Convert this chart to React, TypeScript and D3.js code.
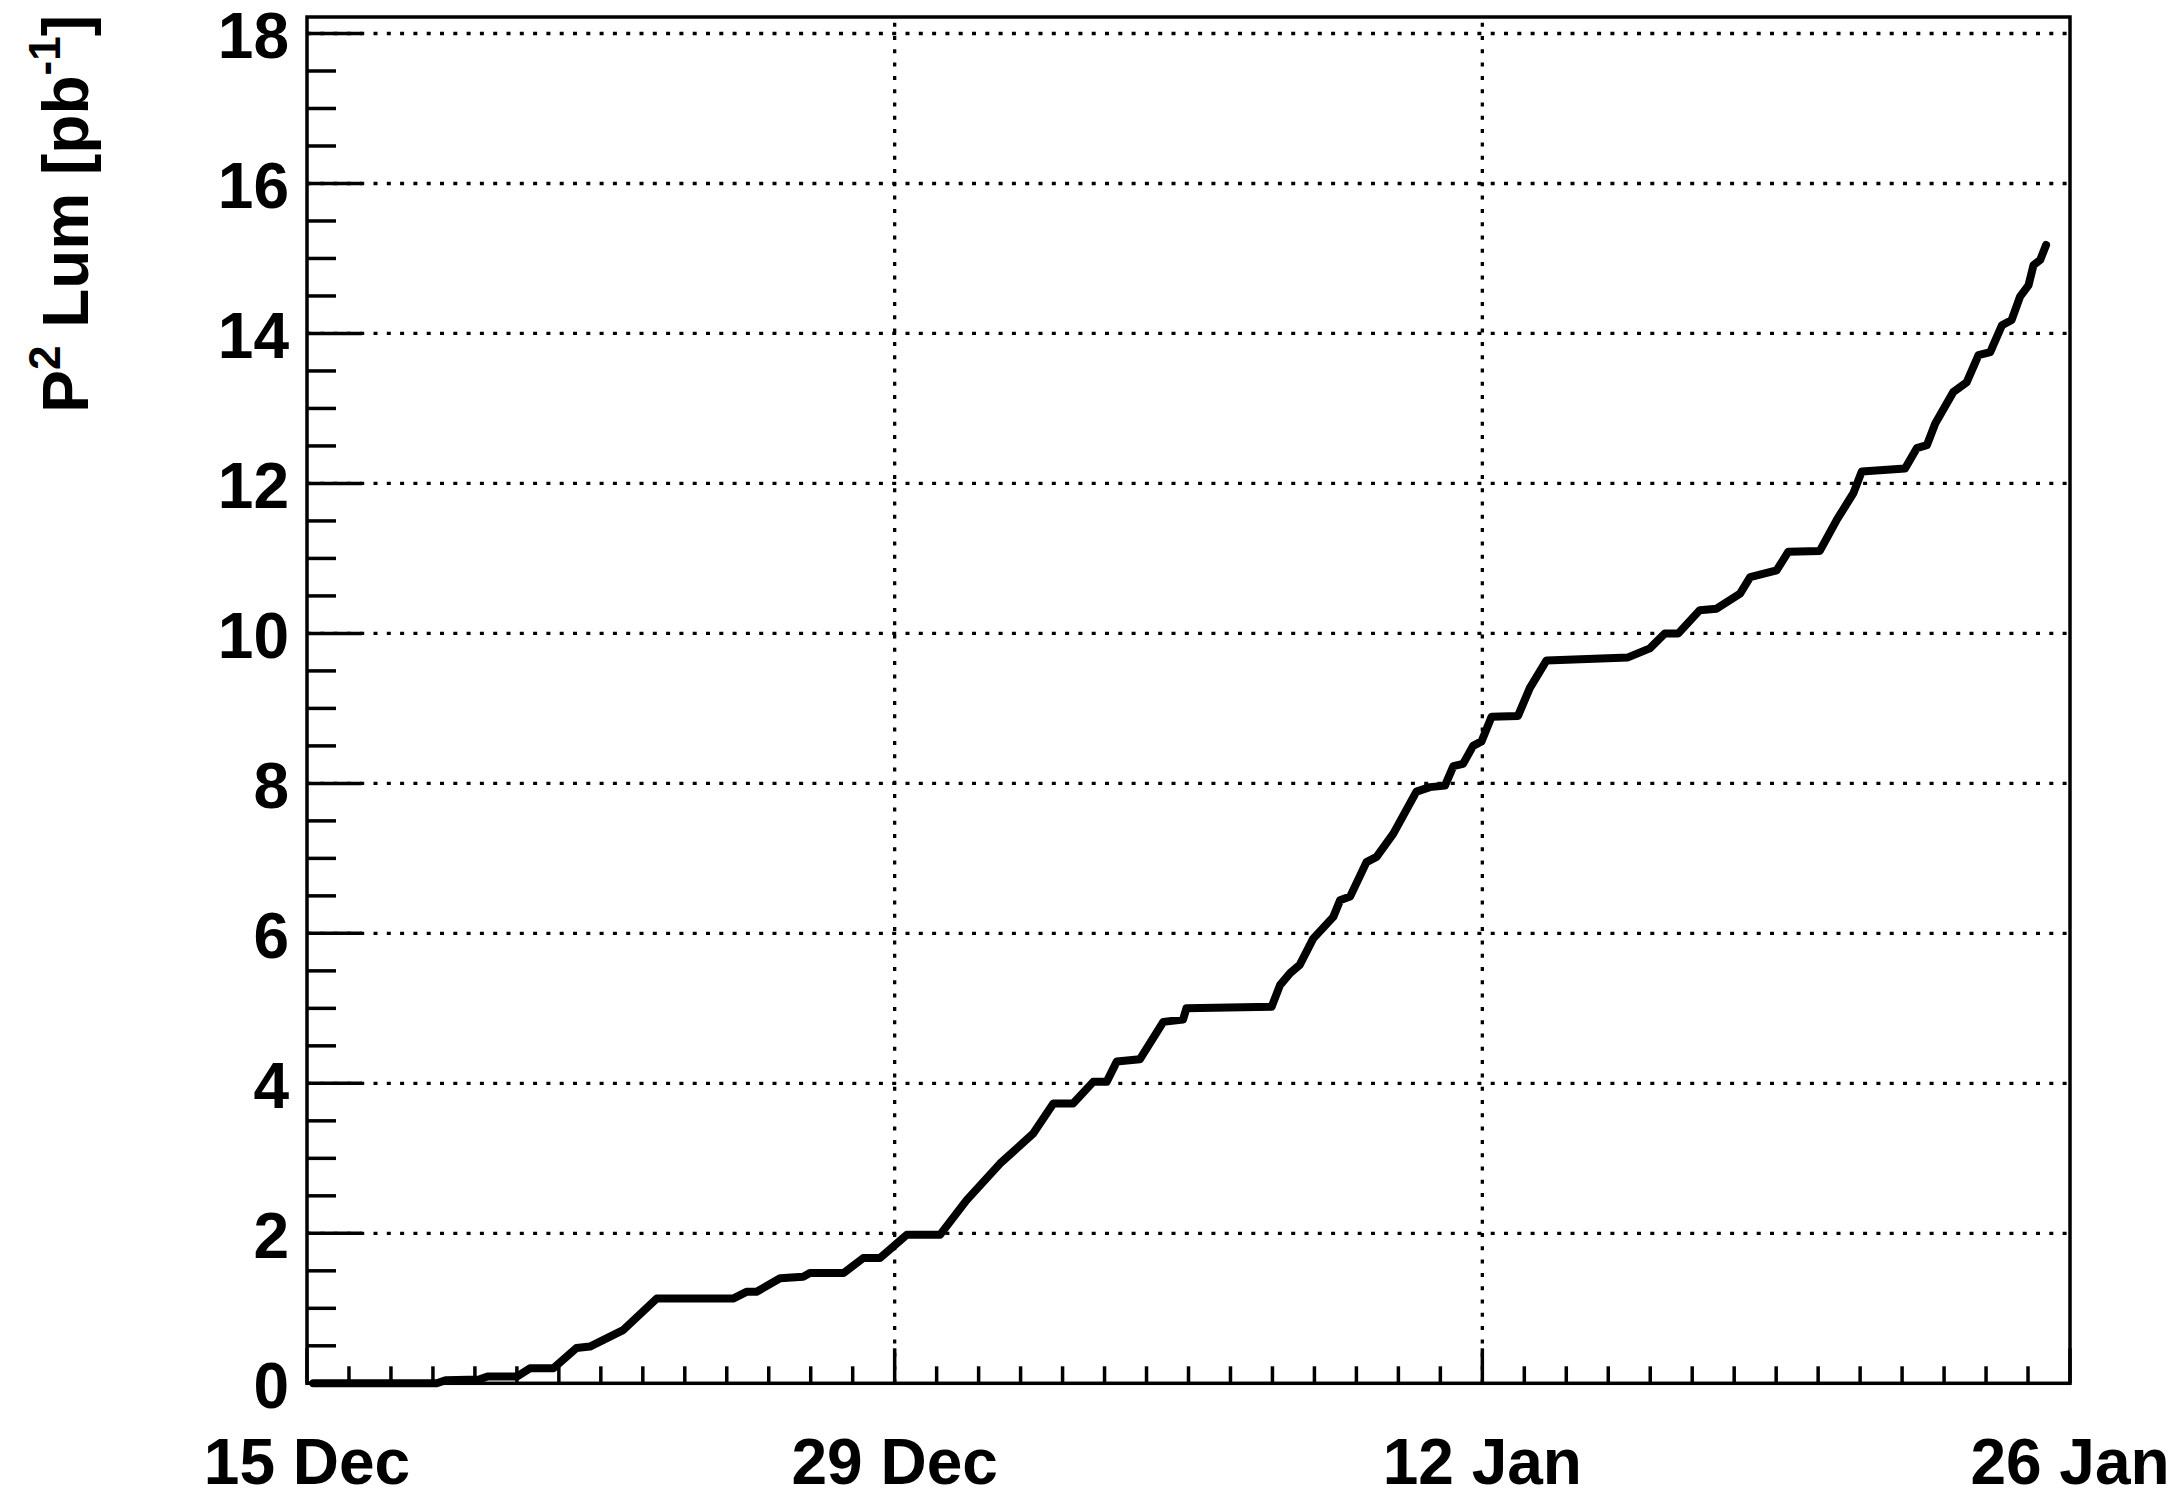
import React from 'react';
import * as d3 from 'd3';

// days since 15 Dec, integrated luminosity (pb^-1)
const days = [
  0.15, 3.09, 3.3, 4.1, 4.3, 5.0, 5.31, 5.87, 6.42, 6.74, 7.53, 8.33, 10.15, 10.47, 10.71,
  11.27, 11.82, 11.98, 12.78, 13.25, 13.65, 14.29, 15.08, 15.71, 16.51, 17.3, 17.78, 18.25,
  18.73, 19.05, 19.29, 19.84, 20.4, 20.87, 20.95, 22.98, 23.18, 23.42, 23.65, 23.97, 24.45,
  24.61, 24.85, 25.24, 25.48, 25.88, 26.43, 26.75, 27.11, 27.31, 27.54, 27.78, 27.98, 28.22,
  28.85, 29.13, 29.53, 31.47, 31.99, 32.35, 32.67, 33.18, 33.58, 34.14, 34.38, 35.01, 35.29,
  36.04, 36.45, 36.84, 37.04, 38.07, 38.35, 38.59, 38.79, 39.22, 39.54, 39.82, 40.1, 40.38,
  40.61, 40.81, 41.01, 41.13, 41.29, 41.43,
];
const lumi = [
  0, 0, 0.04, 0.05, 0.09, 0.09, 0.2, 0.2, 0.47, 0.49, 0.71, 1.13, 1.13, 1.22, 1.22,
  1.4, 1.42, 1.47, 1.47, 1.67, 1.67, 1.98, 1.98, 2.44, 2.93, 3.33, 3.73, 3.73,
  4.02, 4.02, 4.29, 4.32, 4.82, 4.85, 5.0, 5.02, 5.31, 5.47, 5.58, 5.93, 6.22,
  6.44, 6.49, 6.95, 7.02, 7.33, 7.89, 7.95, 7.97, 8.23, 8.26, 8.5, 8.56, 8.89,
  8.9, 9.27, 9.64, 9.68, 9.8, 10.0, 10.0, 10.31, 10.33, 10.53, 10.75, 10.84, 11.09,
  11.1, 11.52, 11.87, 12.16, 12.2, 12.47, 12.51, 12.8, 13.22, 13.35, 13.71, 13.75, 14.11,
  14.18, 14.49, 14.64, 14.91, 14.98, 15.18,
];

const dateTicks = [0, 14, 28, 42];
const dateLabels = ['15 Dec', '29 Dec', '12 Jan', '26 Jan'];
const yMajor = [0, 2, 4, 6, 8, 10, 12, 14, 16, 18];

const W = 2177;
const H = 1498;
const FONT = '"Liberation Sans", Arial, Helvetica, sans-serif';

const App: React.FC = () => {
  const left = 307, right = 2070, top = 17, bottom = 1383.3;
  const x = d3.scaleLinear().domain([0, 42]).range([left, right]);
  const y = d3.scaleLinear().domain([0, 18.22]).range([bottom, top]);

  const pts = days.map((d, i) => [d, lumi[i]] as [number, number]);
  const line = d3.line<[number, number]>().x(d => x(d[0])).y(d => y(d[1]));

  const yMinor = d3.range(0, 18.01, 0.5).filter(v => v % 2 !== 0);
  const xMinor = d3.range(0, 43, 1).filter(d => d % 14 !== 0);

  return (
    <svg width={W} height={H} viewBox={`0 0 ${W} ${H}`}
      style={{ position: 'absolute', left: 0, top: 0, background: '#fff' }}>
      <rect x={0} y={0} width={W} height={H} fill="#fff" />

      {/* dotted grid */}
      <g stroke="#000" strokeWidth={3.3} strokeDasharray="4 9.3" fill="none">
        {yMajor.filter(v => v > 0).map(v => (
          <line key={'gy' + v} x1={left} x2={right} y1={y(v)} y2={y(v)} />
        ))}
        {dateTicks.filter(d => d > 0 && d < 42).map(d => (
          <line key={'gx' + d} x1={x(d)} x2={x(d)} y1={bottom} y2={top} />
        ))}
      </g>

      {/* ticks */}
      <g stroke="#000" strokeWidth={3.5}>
        {yMajor.map(v => (
          <line key={'ty' + v} x1={left} x2={left + 55} y1={y(v)} y2={y(v)} />
        ))}
        {yMinor.map(v => (
          <line key={'tym' + v} x1={left} x2={left + 29} y1={y(v)} y2={y(v)} />
        ))}
        {dateTicks.map(d => (
          <line key={'tx' + d} x1={x(d)} x2={x(d)} y1={bottom} y2={bottom - 35} />
        ))}
        {xMinor.map(d => (
          <line key={'txm' + d} x1={x(d)} x2={x(d)} y1={bottom} y2={bottom - 17} />
        ))}
      </g>

      {/* curve */}
      <path d={line(pts) || ''} fill="none" stroke="#000" strokeWidth={8}
        strokeLinejoin="round" strokeLinecap="round" />

      {/* frame */}
      <rect x={left} y={top} width={right - left} height={bottom - top}
        fill="none" stroke="#000" strokeWidth={3.5} />

      {/* y tick labels */}
      <g fontFamily={FONT} fontWeight="bold" fontSize={64} fill="#000" textAnchor="end">
        {yMajor.map(v => (
          <text key={'ly' + v} x={289} y={y(v) + 25}>{v}</text>
        ))}
      </g>

      {/* x tick labels */}
      <g fontFamily={FONT} fontWeight="bold" fontSize={64} fill="#000" textAnchor="middle">
        {dateTicks.map((d, i) => (
          <text key={'lx' + d} x={x(d)} y={1484}>{dateLabels[i]}</text>
        ))}
      </g>

      {/* y title */}
      <text transform="translate(88,15) rotate(-90)" textAnchor="end"
        fontFamily={FONT} fontWeight="bold" fontSize={64} fill="#000">
        P<tspan fontSize={44} dy={-28}>2</tspan>
        <tspan dy={28}> Lum [pb</tspan>
        <tspan fontSize={44} dy={-28}>-1</tspan>
        <tspan dy={28}>]</tspan>
      </text>
    </svg>
  );
};

export default App;
